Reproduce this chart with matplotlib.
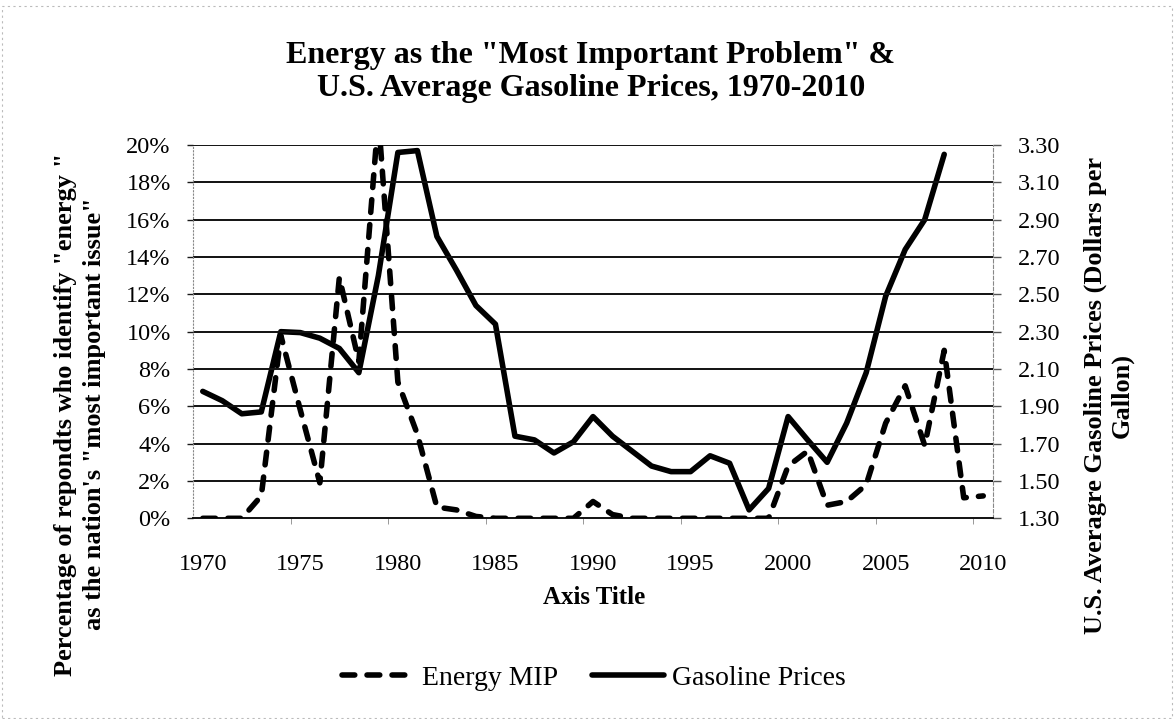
import matplotlib
matplotlib.use("Agg")
import matplotlib.pyplot as plt
import numpy as np
from matplotlib.ticker import FixedLocator, FuncFormatter

# values
years = list(range(1970, 2011))
energy_mip = [0, 0, 0, 1.2, 9.8, 5.8, 1.9, 12.9, 8.4, 21.5,
              7.3, 4.5, 0.6, 0.45, 0.1, 0, 0, 0, 0, 0,
              0.9, 0.2, 0, 0, 0, 0, 0, 0, 0, 0,
              2.8, 3.6, 0.7, 0.9, 1.8, 5.1, 7.1, 3.9, 9.0, 1.1,
              1.2]
gas_years = list(range(1970, 2009))
gas_prices = [1.98, 1.93, 1.86, 1.87, 2.30, 2.295, 2.265, 2.21, 2.08, 2.60,
              3.26, 3.27, 2.81, 2.63, 2.44, 2.34, 1.74, 1.72, 1.65, 1.71,
              1.845, 1.74, 1.66, 1.58, 1.55, 1.55, 1.635, 1.595, 1.345, 1.46,
              1.845, 1.72, 1.60, 1.81, 2.08, 2.49, 2.74, 2.90, 3.25]
pct_ticks = list(range(0, 21, 2))
price_ticks = [1.30, 1.50, 1.70, 1.90, 2.10, 2.30, 2.50, 2.70, 2.90, 3.10, 3.30]
year_ticks = list(range(1970, 2011, 5))

title = 'Energy as the "Most Important Problem" &\nU.S. Average Gasoline Prices, 1970-2010'
left_label = 'Percentage of repondts who identify "energy "\nas the nation\'s "most important issue"'
right_label = 'U.S. Averagre Gasoline Prices (Dollars per\nGallon)'

serif = "Liberation Serif"
W, H = 1174, 719
fig = plt.figure(figsize=(W / 100, H / 100), dpi=100)
ax = fig.add_axes([193 / W, 1 - 518.3 / H, 800 / W, 373.3 / H])
ax2 = ax.twinx()

ax.set_xlim(1969.5, 2010.5)
ax.set_ylim(0, 20)
ax2.set_ylim(1.30, 3.30)

# gridlines
for v in pct_ticks[1:]:
    ax.axhline(v, color="#111111", lw=1.4, zorder=1)

ax.plot(years, energy_mip, color="black", lw=4.0,
        linestyle=(0, (2.3, 2.2)), dash_capstyle="round",
        solid_joinstyle="round", zorder=3, label="Energy MIP")
ax2.plot(gas_years, gas_prices, color="black", lw=4.0,
         solid_joinstyle="round", solid_capstyle="round", zorder=3,
         label="Gasoline Prices")

# axes styling
ax.spines["top"].set_visible(False)
ax2.spines["top"].set_visible(False)
ax.spines["left"].set_linestyle((0, (1, 2)))
ax.spines["left"].set_color("#888888")
ax.spines["left"].set_linewidth(0.8)
ax2.spines["left"].set_visible(False)
ax2.spines["right"].set_linestyle((0, (3, 2)))
ax2.spines["right"].set_color("#888888")
ax2.spines["right"].set_linewidth(0.8)
ax.spines["right"].set_visible(False)
ax.spines["bottom"].set_color("#111111")
ax.spines["bottom"].set_linewidth(1.4)
ax2.spines["bottom"].set_visible(False)

ax.yaxis.set_major_locator(FixedLocator(pct_ticks))
ax.yaxis.set_major_formatter(FuncFormatter(lambda v, p: f"{v:.0f}%"))
ax.tick_params(axis="y", length=4, width=1.0, color="#1a1a1a", pad=12,
               labelsize=17.5, labelfontfamily=serif)
ax2.yaxis.set_major_locator(FixedLocator(price_ticks))
ax2.yaxis.set_major_formatter(FuncFormatter(lambda v, p: f"{v:.2f}"))
ax2.tick_params(axis="y", length=6, width=1.0, color="#555555", pad=12,
                labelsize=17.5, labelfontfamily=serif)

ax.xaxis.set_major_locator(FixedLocator(year_ticks))
ax.xaxis.set_minor_locator(FixedLocator([y - 0.5 for y in year_ticks[1:]]))
ax.tick_params(axis="x", which="major", length=0, pad=26,
               labelsize=17.5, labelfontfamily=serif)
ax.tick_params(axis="x", which="minor", length=4, color="#888888")

ax.set_zorder(ax2.get_zorder() + 1)
ax.patch.set_visible(False)

fig.text(591 / W, 1 - 72 / H, title, ha="center", va="center",
         fontsize=23, fontweight="bold", family=serif, linespacing=1.2)
fig.text(80 / W, 1 - 414 / H, left_label, rotation=90, ha="center",
         va="center", fontsize=19, fontweight="bold", family=serif,
         multialignment="center", linespacing=1.3)
fig.text(1109 / W, 1 - 395 / H, right_label, rotation=90, ha="center",
         va="center", fontsize=19, fontweight="bold", family=serif,
         multialignment="center", linespacing=1.2)
fig.text(594 / W, 1 - 597 / H, "Axis Title", ha="center", va="center",
         fontsize=18, fontweight="bold", family=serif)

h1, l1 = ax.get_legend_handles_labels()
h2, l2 = ax2.get_legend_handles_labels()
fig.legend(h1 + h2, l1 + l2, loc="center", bbox_to_anchor=(594 / W, 1 - 678 / H),
           ncol=2, frameon=False, prop={"family": serif, "size": 20},
           handlelength=2.6, handletextpad=0.3, columnspacing=1.2)

# faint border round the picture
fig.patches.append(plt.Rectangle((0.002, 0.002), 0.996, 0.99, transform=fig.transFigure,
                                 fill=False, edgecolor="#bbbbbb", lw=0.8,
                                 linestyle=(0, (2, 3))))

fig.savefig("out.png", dpi=100)
